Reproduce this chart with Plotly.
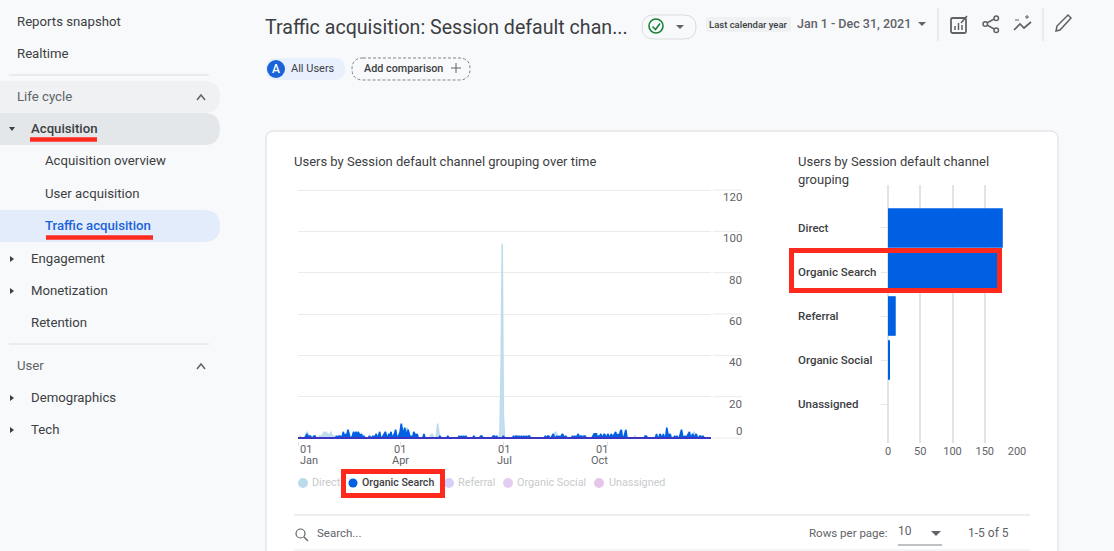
import pandas as pd
import plotly.graph_objects as go
from plotly.subplots import make_subplots

W = 1114
H = 551

# daily users, one row per month
direct = [
    0,0,1,0,0,0,0,2,3,2,1,0,0,0,0,0,0,0,0,1,1,1,2,3,1,3,1,2,1,3,1,
    1,1,0,0,0,0,0,0,0,0,0,0,0,0,0,0,0,0,0,0,0,1,0,0,0,0,0,0,
    0,0,0,0,0,0,0,1,0,0,0,0,0,0,0,0,1,0,0,0,0,0,0,0,0,0,1,0,0,0,0,
    0,0,0,0,2,3,5,4,2,1,0,0,0,0,0,0,0,0,0,0,0,0,0,0,0,0,0,1,2,1,
    0,0,1,7,2,0,0,0,0,0,0,0,0,0,0,0,0,0,0,0,0,0,0,0,0,0,0,0,0,0,0,
    0,0,0,0,0,0,0,0,0,0,0,0,0,0,0,0,0,0,0,0,0,0,0,0,0,0,0,3,34,94,
    12,0,0,0,0,0,0,0,0,0,0,0,0,0,0,0,0,0,0,0,0,0,0,0,0,0,0,0,0,0,0,
    0,0,0,0,0,0,0,0,0,0,0,0,0,1,2,3,2,0,0,0,0,0,0,0,0,0,0,0,0,0,0,
    0,0,0,0,0,0,0,0,0,0,0,0,0,0,0,0,0,0,0,0,0,0,0,0,0,0,0,0,0,0,
    0,0,0,0,0,0,0,0,0,0,0,0,0,0,0,0,0,0,0,0,0,0,0,0,1,0,0,0,0,0,0,
    0,0,0,0,0,0,0,0,0,0,0,0,0,0,0,0,0,0,0,0,0,1,0,0,0,0,0,0,0,0,
    0,0,0,0,0,0,0,0,0,0,0,0,0,1,2,3,2,1,1,0,0,0,0,0,0,0,0,0,0,0,0,
]
organic_search = [
    0,0,0,0,0,0,0,1,2,0,1,1,0,0,1,1,0,0,0,0,0,0,0,0,0,0,0,0,0,0,0,
    0,0,0,1,0,1,1,0,1,3,0,2,1,4,2,0,0,1,3,1,3,1,3,2,1,2,0,1,
    0,0,0,0,1,0,0,1,0,1,2,0,1,3,0,0,1,2,3,1,0,2,1,3,0,1,2,4,1,0,2,
    3,7,3,1,5,2,1,4,2,0,1,0,3,2,1,2,0,0,0,0,0,2,0,0,0,0,0,0,0,0,
    0,0,0,0,0,1,0,0,0,0,0,0,1,0,0,0,0,0,0,0,0,0,1,0,1,0,1,0,1,0,0,
    0,0,0,0,1,0,0,0,0,0,1,1,0,0,0,0,0,0,0,0,0,1,1,0,1,0,0,0,0,0,
    1,0,0,0,0,0,0,0,0,1,0,1,1,0,1,0,1,0,1,0,1,0,1,1,0,0,0,0,0,0,0,
    0,0,0,0,0,0,1,0,1,1,0,0,1,2,0,0,1,0,1,0,1,2,1,0,1,0,0,0,0,0,1,
    0,1,0,1,2,0,1,1,0,1,1,0,0,0,0,0,0,1,2,2,2,0,1,1,2,0,1,2,1,0,
    2,1,0,2,1,1,2,3,0,2,0,3,4,0,0,3,4,0,0,0,0,0,0,0,0,0,0,0,0,0,0,
    0,0,1,1,0,0,0,0,0,0,0,0,2,0,0,2,1,0,2,0,0,5,2,1,2,0,0,0,1,0,
    1,0,0,2,4,1,0,1,0,1,2,3,0,1,2,0,1,2,0,0,1,1,0,1,0,0,0,0,0,0,0,
]
dates = pd.date_range("2021-01-01", "2021-12-31", freq="D")
zeros = [0] * len(dates)

channels = ["Direct", "Organic Search", "Referral", "Organic Social", "Unassigned"]
channel_users = [178, 172, 12, 3, 0]

y_ticks = [0, 20, 40, 60, 80, 100, 120]
bar_ticks = [0, 50, 100, 150, 200]
month_dates = ["2021-01-01", "2021-04-01", "2021-07-01", "2021-10-01"]
month_days = ["01", "01", "01", "01"]
month_names = ["Jan", "Apr", "Jul", "Oct"]

BLUE = "#0060e3"
INK = "#3c4043"
GREY = "#5f6368"
RED = "#ff2a1e"


def px(x):
    return x / W


def py(y):
    return 1 - y / H


def note(x, y, text, size=13.2, color=INK, weight=400, anchor="left"):
    # -1 / -0.5: annotation boxes sit a hair right and low of the asked position
    return dict(text=text, x=px(x - 1), y=py(y - 0.5), xref="paper", yref="paper", xanchor=anchor, yanchor="middle", borderpad=0,
                showarrow=False, font=dict(family="Roboto", size=size, color=color, weight=weight))


def path(points, close=True):
    d = "M" + " L".join(f"{px(x):.5f},{py(y):.5f}" for x, y in points)
    return d + (" Z" if close else "")


def rrect(x0, y0, x1, y1, r):
    # rounded box in pixels, corner as a quadratic curve
    p = lambda x, y: f"{px(x):.5f},{py(y):.5f}"
    return (f"M{p(x0 + r, y0)} L{p(x1 - r, y0)} Q{p(x1, y0)} {p(x1, y0 + r)} L{p(x1, y1 - r)} Q{p(x1, y1)} {p(x1 - r, y1)} "
            f"L{p(x0 + r, y1)} Q{p(x0, y1)} {p(x0, y1 - r)} L{p(x0, y0 + r)} Q{p(x0, y0)} {p(x0 + r, y0)} Z")


def shp(d, fill="rgba(0,0,0,0)", line=None, width=0, layer="below", dash=None):
    return dict(type="path", path=d, xref="paper", yref="paper", fillcolor=fill, layer=layer,
                line=dict(color=line or "rgba(0,0,0,0)", width=width, dash=dash or "solid"))


def hline(x0, x1, y, color="#dadce0", width=1):
    return shp(path([(x0, y), (x1, y)], close=False), line=color, width=width)


def dot(cx, cy, r, color, layer="below"):
    return dict(type="circle", xref="paper", yref="paper", x0=px(cx - r), x1=px(cx + r), y0=py(cy + r), y1=py(cy - r),
                fillcolor=color, line=dict(width=0), layer=layer)


fig = make_subplots(rows=1, cols=2)

fig.add_trace(go.Scatter(x=dates, y=direct, mode="lines", line=dict(color="#bcdcec", width=1.5), fill="tozeroy",
                         fillcolor="#c4e0ee", name="Direct"), row=1, col=1)
fig.add_trace(go.Scatter(x=dates, y=organic_search, mode="lines", line=dict(color=BLUE, width=1.6), fill="tozeroy",
                         fillcolor=BLUE, name="Organic Search"), row=1, col=1)
fig.add_trace(go.Scatter(x=dates, y=zeros, mode="lines", line=dict(color="#3b34c4", width=2.2), name="Unassigned"),
              row=1, col=1)
fig.add_trace(go.Bar(x=channel_users, y=channels, orientation="h", marker=dict(color=BLUE, line=dict(width=0)), width=0.9),
              row=1, col=2)

fig.update_xaxes(row=1, col=1, domain=[px(298), px(711)], range=["2021-01-01", "2021-12-31"], tickvals=month_dates,
                 showticklabels=False, showgrid=False, zeroline=False, showline=False, ticks="outside", ticklen=4,
                 tickcolor="#e4e4e4")
fig.update_yaxes(row=1, col=1, domain=[py(441), py(188)], range=[-1.45, 120.97], tickvals=y_ticks, showticklabels=False,
                 gridcolor="#ebebeb", gridwidth=1, zeroline=False, showline=False, ticks="")
fig.update_xaxes(row=1, col=2, domain=[px(888), px(1017)], range=[0, 200], tickvals=bar_ticks, gridcolor="#e3e3e3",
                 gridwidth=1.5, zeroline=True, zerolinecolor="#e3e3e3", zerolinewidth=1.5, showline=False, ticks="",
                 tickfont=dict(family="Roboto", size=11, color=GREY))
fig.update_yaxes(row=1, col=2, domain=[py(443), py(185)], range=[4.886, -0.977], type="category", categoryorder="array",
                 categoryarray=channels, showticklabels=False, showgrid=False, zeroline=False, showline=False,
                 ticks="outside", ticklen=6, tickcolor="#e8e8e8")

shapes = [
    # report card and its table rules
    shp(rrect(266, 131, 1058, 600, 8), fill="#ffffff", line="#dadce0", width=1),
    hline(294, 1030, 515),
    hline(294, 1030, 550, color="#e8eaed"),
    hline(898, 942, 545, color="#80868b"),
    shp(path([(931, 531), (941, 531), (936, 536)]), fill=GREY),
    # sidebar bands
    shp(rrect(-20, 81, 220, 113, 16), fill="#eff1f3"),
    shp(rrect(-20, 113, 220, 145, 16), fill="#e4e7e9"),
    shp(rrect(-20, 210, 220, 242, 16), fill="#e3ecfb"),
    hline(9, 209, 75),
    hline(9, 209, 344),
    shp(path([(197, 100), (201, 95), (205, 100)], close=False), line=GREY, width=1.5),
    shp(path([(197, 369), (201, 364), (205, 369)], close=False), line=GREY, width=1.5),
    shp(path([(9, 127), (15, 127), (12, 131)]), fill=INK),
    # header
    shp(rrect(642, 15, 696, 39, 12), fill="#f8f9fa", line="#dadce0", width=1),
    dict(type="circle", xref="paper", yref="paper", x0=px(649), x1=px(663), y0=py(33), y1=py(19),
         line=dict(color="#188038", width=1.6), layer="below"),
    shp(path([(652.5, 26.5), (655.5, 29.5), (660, 23.5)], close=False), line="#188038", width=1.6),
    shp(path([(676, 25), (684, 25), (680, 29)]), fill=GREY),
    shp(rrect(706, 17, 791, 32, 2), fill="#eff1f3"),
    shp(path([(918, 22), (926, 22), (922, 26)]), fill=GREY),
    shp(path([(938, 8), (938, 41)], close=False), line="#dadce0", width=1),
    shp(path([(1043, 8), (1043, 41)], close=False), line="#dadce0", width=1),
    # customize report icon
    shp(rrect(951, 18, 966, 33, 1.5), line=GREY, width=1.8),
    shp(path([(955, 30), (955, 26)], close=False), line=GREY, width=1.5),
    shp(path([(958.5, 30), (958.5, 23)], close=False), line=GREY, width=1.5),
    shp(path([(962, 30), (962, 25)], close=False), line=GREY, width=1.5),
    shp(path([(961, 23), (967, 16)], close=False), line=GREY, width=1.6),
    # share icon
    shp(path([(996, 18), (985, 24), (996, 30)], close=False), line=GREY, width=1.5),
    dict(type="circle", xref="paper", yref="paper", x0=px(994), x1=px(998.5), y0=py(20.5), y1=py(16), fillcolor="#f8f9fa",
         line=dict(color=GREY, width=1.5), layer="below"),
    dict(type="circle", xref="paper", yref="paper", x0=px(983), x1=px(987.5), y0=py(26.2), y1=py(21.7), fillcolor="#f8f9fa",
         line=dict(color=GREY, width=1.5), layer="below"),
    dict(type="circle", xref="paper", yref="paper", x0=px(994), x1=px(998.5), y0=py(32.5), y1=py(28), fillcolor="#f8f9fa",
         line=dict(color=GREY, width=1.5), layer="below"),
    # insights icon
    shp(path([(1014, 30), (1020, 24), (1024, 28), (1031, 22)], close=False), line=GREY, width=1.7),
    shp(path([(1015, 20), (1019, 20)], close=False), line=GREY, width=1),
    shp(path([(1025, 17), (1029, 17)], close=False), line=GREY, width=1),
    shp(path([(1027, 15), (1027, 19)], close=False), line=GREY, width=1),
    # pencil
    shp(path([(1056, 31), (1057, 26), (1068, 15), (1071, 18), (1060, 30)]), line=GREY, width=1.5),
    # comparison chips
    shp(rrect(266, 58, 345, 80, 11), fill="#e8f0fe"),
    dot(276, 69, 9, "#1a63d8"),
    shp(rrect(352, 58, 470, 80, 11), line="#80868b", width=1, dash="3px,2px"),
    hline(451, 461, 68, color=GREY),
    shp(path([(456, 63), (456, 73)], close=False), line=GREY, width=1),
    # search glass
    dict(type="circle", xref="paper", yref="paper", x0=px(296), x1=px(305), y0=py(538), y1=py(529),
         line=dict(color=GREY, width=1.2), layer="below"),
    shp(path([(304, 537), (308, 541)], close=False), line=GREY, width=1.2),
    # legend dots
    dot(303, 483, 5, "#bcdcec"),
    dot(353, 483, 4.5, BLUE),
    dot(449, 483, 5, "#d5d0f7"),
    dot(508, 483, 5, "#e3cdf0"),
    dot(599, 483, 5, "#e6c5e8"),
    # red call-outs
    shp(path([(30, 139.5), (97, 139.5)], close=False), line=RED, width=4.5, layer="above"),
    shp(path([(46, 237.5), (153, 237.5)], close=False), line=RED, width=4.5, layer="above"),
    shp(path([(343.5, 471.5), (442.5, 471.5), (442.5, 495.5), (343.5, 495.5)]), line=RED, width=5, layer="above"),
    shp(path([(791.5, 250.5), (999.5, 250.5), (999.5, 290.5), (791.5, 290.5)]), line=RED, width=5, layer="above"),
]
for arrow_y in [259, 291, 398, 430]:
    shapes.append(shp(path([(10, arrow_y - 3), (14, arrow_y), (10, arrow_y + 3)]), fill=INK))
# right-hand stubs of the gridlines
for v in y_ticks:
    shapes.append(dict(type="line", xref="paper", yref="y", x0=px(713), x1=px(742), y0=v, y1=v,
                       line=dict(color="#ebebeb", width=1), layer="below"))

annotations = [
    note(17, 22, "Reports snapshot"),
    note(17, 54, "Realtime"),
    note(17, 97, "Life cycle", color=GREY),
    note(31, 129, "Acquisition", weight=500),
    note(45, 161, "Acquisition overview"),
    note(45, 194, "User acquisition"),
    note(45, 226, "Traffic acquisition", color="#1a63d8", weight=500),
    note(31, 259, "Engagement"),
    note(31, 291, "Monetization"),
    note(31, 323, "Retention"),
    note(17, 366, "User", color=GREY),
    note(31, 398, "Demographics"),
    note(31, 430, "Tech"),
    note(265, 28, "Traffic acquisition: Session default chan...", size=19.6),
    note(709, 24.5, "Last calendar year", size=9.5, weight=500),
    note(797, 24, "Jan 1 - Dec 31, 2021", size=12.5, color=GREY, weight=500),
    note(277, 69, "A", size=12, color="#ffffff", weight=500, anchor="center"),
    note(291, 69, "All Users", size=11),
    note(364, 69, "Add comparison", size=10.8, weight=500),
    note(294, 162, "Users by Session default channel grouping over time", size=13),
    note(798, 162, "Users by Session default channel", size=13),
    note(798, 180, "grouping", size=13),
    note(312, 483, "Direct", size=10.8, color="#c8cacc"),
    note(362, 483, "Organic Search", size=10.6, weight=500),
    note(458, 483, "Referral", size=10.8, color="#c8cacc"),
    note(517, 483, "Organic Social", size=10.8, color="#c8cacc"),
    note(609, 483, "Unassigned", size=10.8, color="#c8cacc"),
    note(317, 533, "Search...", size=11.5, color=GREY),
    note(809, 533, "Rows per page:", size=11.5, color=GREY),
    note(898, 531, "10", size=12, color=GREY),
    note(968, 533, "1-5 of 5", size=12, color=GREY),
]
# y tick labels sit under their gridline, except the zero
for v in y_ticks:
    annotations.append(dict(text=str(v), x=px(743), y=v, xref="paper", yref="y", xanchor="right", yanchor="middle",
                            yshift=7 if v == 0 else -7, showarrow=False, borderpad=0,
                            font=dict(family="Roboto", size=11.5, color=GREY)))
# month labels, two separate rows because the line gap is tighter than plotly's <br>
for d, day, name, anchor, shift in zip(month_dates, month_days, month_names, ["left", "center", "center", "right"], [1, 0, 1, 1]):
    for text, row_y in [(day, 449), (name, 460)]:
        annotations.append(dict(text=text, x=d, y=py(row_y), xref="x", yref="paper", yanchor="middle", xanchor=anchor,
                                xshift=shift, showarrow=False, borderpad=0,
                                font=dict(family="Roboto", size=11, color=GREY)))
# channel names, left aligned
for name in channels:
    annotations.append(dict(text=name, x=px(797), y=name, xref="paper", yref="y2", xanchor="left", yanchor="middle",
                            showarrow=False, borderpad=0, font=dict(family="Roboto", size=11.5, color=INK, weight=500)))

fig.update_layout(width=W, height=H, margin=dict(l=0, r=0, t=0, b=0, autoexpand=False), paper_bgcolor="#f8f9fa",
                  plot_bgcolor="rgba(0,0,0,0)", showlegend=False, hovermode=False, shapes=shapes, annotations=annotations,
                  font=dict(family="Roboto"))

fig.write_html("out.html", config=dict(displayModeBar=False),
               post_script="document.body.style.margin='0';document.body.style.overflow='hidden';")
